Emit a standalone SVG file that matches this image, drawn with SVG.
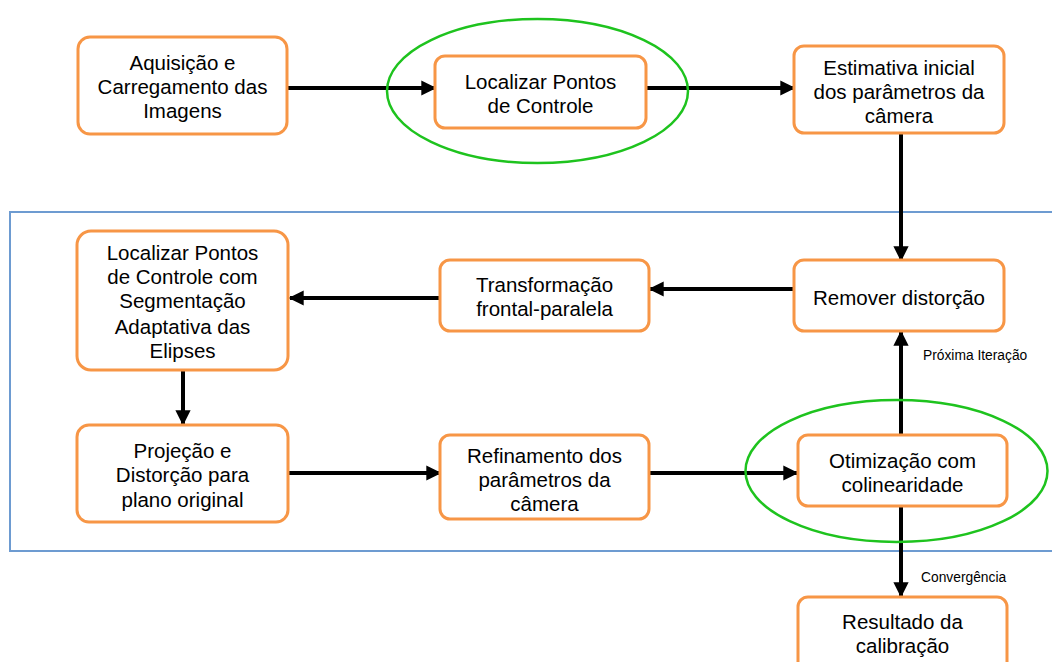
<svg xmlns="http://www.w3.org/2000/svg" width="1052" height="662" viewBox="0 0 1052 662">
<defs>
<style>
.box{fill:#fff;stroke:#f79646;stroke-width:3}
.t{font-family:"Liberation Sans",Arial,sans-serif;font-size:20.5px;fill:#000;text-anchor:middle}
.lbl{font-family:"Liberation Sans",Arial,sans-serif;font-size:13.8px;fill:#000}
.c{stroke:#000;stroke-width:4;fill:none;marker-end:url(#ah)}
.ell{fill:none;stroke:#1ec31e;stroke-width:2.5}
</style>
<marker id="ah" viewBox="0 0 10 10" refX="9" refY="5" markerWidth="3.8" markerHeight="3.8" markerUnits="strokeWidth" orient="auto">
<path d="M0,0 L10,5 L0,10 z" fill="#000"/>
</marker>
</defs>
<rect width="1052" height="662" fill="#fff"/>
<rect id="loop-region" x="10" y="212" width="1060" height="339" fill="none" stroke="#6d9bd1" stroke-width="2"/>
<g id="connectors">
<line class="c" x1="287" y1="88" x2="435" y2="88"/>
<line class="c" x1="647" y1="88" x2="794" y2="88"/>
<line class="c" x1="901" y1="133" x2="901" y2="260"/>
<line class="c" x1="794" y1="289" x2="650" y2="289"/>
<line class="c" x1="440" y1="298" x2="290" y2="298"/>
<line class="c" x1="183" y1="370" x2="183" y2="424"/>
<line class="c" x1="288" y1="473" x2="440" y2="473"/>
<line class="c" x1="649" y1="473" x2="797" y2="473"/>
<line class="c" x1="901" y1="435" x2="901" y2="332"/>
<line class="c" x1="901" y1="506" x2="901" y2="596"/>
<text class="lbl" x="923" y="360">Próxima Iteração</text>
<text class="lbl" x="921" y="582">Convergência</text>
</g>
<g id="n1"><rect class="box" x="78" y="37" width="209" height="97" rx="12"/>
<text class="t" x="182.5" y="70">Aquisição e</text><text class="t" x="182.5" y="94">Carregamento das</text><text class="t" x="182.5" y="118">Imagens</text></g>
<g id="n2"><rect class="box" x="435" y="56" width="211" height="72" rx="10"/>
<text class="t" x="540.5" y="89">Localizar Pontos</text><text class="t" x="540.5" y="113">de Controle</text></g>
<ellipse id="e1" class="ell" cx="537.5" cy="91" rx="150.5" ry="72"/>
<g id="n3"><rect class="box" x="794" y="46" width="210" height="87" rx="10"/>
<text class="t" x="899" y="75">Estimativa inicial</text><text class="t" x="899" y="99">dos parâmetros da</text><text class="t" x="899" y="123">câmera</text></g>
<g id="n4"><rect class="box" x="794" y="260" width="210" height="71" rx="10"/>
<text class="t" x="899" y="305">Remover distorção</text></g>
<g id="n5"><rect class="box" x="440" y="260" width="209" height="71" rx="10"/>
<text class="t" x="544.5" y="292">Transformação</text><text class="t" x="544.5" y="316">frontal-paralela</text></g>
<g id="n6"><rect class="box" x="77" y="231" width="211" height="139" rx="14"/>
<text class="t" x="182.5" y="260">Localizar Pontos</text><text class="t" x="182.5" y="284">de Controle com</text><text class="t" x="182.5" y="308">Segmentação</text><text class="t" x="182.5" y="334">Adaptativa das</text><text class="t" x="182.5" y="358">Elipses</text></g>
<g id="n7"><rect class="box" x="77" y="425" width="211" height="97" rx="12"/>
<text class="t" x="182.5" y="458">Projeção e</text><text class="t" x="182.5" y="482">Distorção para</text><text class="t" x="182.5" y="507">plano original</text></g>
<g id="n8"><rect class="box" x="440" y="435" width="209" height="84" rx="10"/>
<text class="t" x="544.5" y="463">Refinamento dos</text><text class="t" x="544.5" y="487">parâmetros da</text><text class="t" x="544.5" y="511">câmera</text></g>
<g id="n9"><rect class="box" x="798" y="435" width="209" height="71" rx="10"/>
<text class="t" x="902.5" y="468">Otimização com</text><text class="t" x="902.5" y="492">colinearidade</text></g>
<ellipse id="e2" class="ell" cx="896.5" cy="471" rx="151" ry="71"/>
<g id="n10"><rect class="box" x="798" y="597" width="209" height="80" rx="10"/>
<text class="t" x="902.5" y="629">Resultado da</text><text class="t" x="902.5" y="653">calibração</text></g>
</svg>
